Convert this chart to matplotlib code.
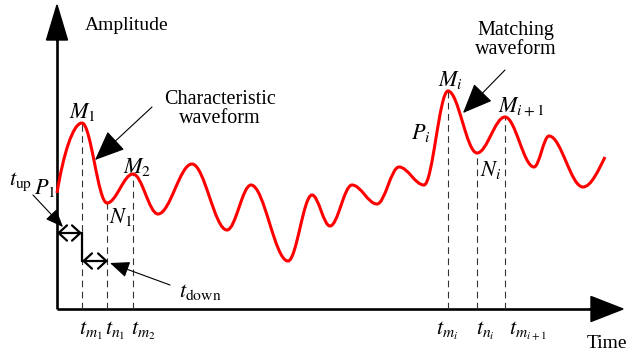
import numpy as np
import matplotlib
matplotlib.use("Agg")
import matplotlib.pyplot as plt
from matplotlib.path import Path
from matplotlib.patches import PathPatch, FancyArrow

plt.rcParams['font.family'] = 'serif'
plt.rcParams['font.serif'] = ['Liberation Serif', 'Times New Roman', 'DejaVu Serif']
plt.rcParams['mathtext.fontset'] = 'stix'

# waveform extrema (time, amplitude)
wave_t = [0, 25, 50, 76, 101, 135, 170, 194, 231, 255, 273, 295, 320, 342,
          367, 391, 420, 448, 477, 492, 526, 548]
wave_a = [116, 186, 106, 135, 95, 145, 79, 124, 48, 114, 83, 124, 105, 142,
          124, 218, 156, 192, 142, 173, 122, 152]

# marked instants
mark_t = [25, 50, 76, 391, 420, 448]
mark_a = [186, 106, 135, 218, 156, 192]
mark_lbl = [r'$t_{m_1}$', r'$t_{n_1}$', r'$t_{m_2}$',
            r'$t_{m_i}$', r'$t_{n_i}$', r'$t_{m_{i+1}}$']
lbl_dx = [-3, -2, -2, -12, -1, 4]

fig = plt.figure(figsize=(6.27, 3.51), dpi=100)
ax = fig.add_axes([0, 0, 1, 1])
ax.set_xlim(-57, 570)
ax.set_ylim(-42, 309)
ax.axis('off')

# smooth curve through the extrema (cubic bezier, flat tangents at extrema)
k = 0.36
verts = [(wave_t[0], wave_a[0])]
codes = [Path.MOVETO]
n = len(wave_t)
for i in range(n - 1):
    x0, y0, x1, y1 = wave_t[i], wave_a[i], wave_t[i + 1], wave_a[i + 1]
    dx = x1 - x0
    c1 = (x0 + k * dx, y0)
    c2 = (x1 - k * dx, y1)
    if i == 0:
        c1 = (x0 + 0.25 * dx, y0 + 0.55 * (y1 - y0))
    if i == n - 2:
        c2 = (x1 - 0.3 * dx, y1 - 0.45 * (y1 - y0))
    verts += [c1, c2, (x1, y1)]
    codes += [Path.CURVE4] * 3
ax.add_patch(PathPatch(Path(verts, codes), fill=False, edgecolor='#ff0000', lw=2.2, zorder=3))

# axes with arrows
ax.plot([0, 0], [0, 275], color='black', lw=1.9, solid_capstyle='butt')
ax.plot([0, 540], [0, 0], color='black', lw=1.9, solid_capstyle='butt')
ax.add_patch(FancyArrow(0, 268, 0, 36, width=0.1, head_width=21, head_length=35,
                        length_includes_head=True, color='black'))
ax.add_patch(FancyArrow(532, 0, 34, 0, width=0.1, head_width=25, head_length=32,
                        length_includes_head=True, color='black'))
ax.text(70, 284, 'Amplitude', fontsize=14, ha='center', va='center')
ax.text(550, -34, 'Time', fontsize=14, ha='center', va='center')

# dashed drop lines and time labels
for t, a, lab, d in zip(mark_t, mark_a, mark_lbl, lbl_dx):
    ax.plot([t, t], [0, a], color='#333333', lw=0.8, dashes=(6, 4))
    ax.text(t + d, -22, lab, fontsize=16, ha='left', va='center')

# point labels
ax.text(26, 197, r'$M_1$', fontsize=16, ha='center', va='center')
ax.text(-12, 121, r'$P_1$', fontsize=16, ha='center', va='center')
ax.text(52, 92, r'$N_1$', fontsize=16, ha='left', va='center')
ax.text(80, 142, r'$M_2$', fontsize=16, ha='center', va='center')
ax.text(394, 229, r'$M_i$', fontsize=16, ha='center', va='center')
ax.text(364, 176, r'$P_i$', fontsize=16, ha='center', va='center')
ax.text(423, 139, r'$N_i$', fontsize=16, ha='left', va='center')
ax.text(441, 202, r'$M_{i+1}$', fontsize=16, ha='left', va='center')

# waveform annotations
ax.text(163, 200, 'Characteristic\nwaveform', fontsize=14.5, ha='center', va='center',
        linespacing=1.05)
ax.annotate('', xy=(38, 149), xytext=(95, 202),
            arrowprops=dict(arrowstyle='-|>,head_length=1.9,head_width=0.8',
                            mutation_scale=10, lw=0.8, color='black',
                            shrinkA=0, shrinkB=0))
ax.text(459, 269, 'Matching\nwaveform', fontsize=14.5, ha='center', va='center',
        linespacing=1.05)
ax.annotate('', xy=(406, 196), xytext=(448, 239),
            arrowprops=dict(arrowstyle='-|>,head_length=1.9,head_width=0.8',
                            mutation_scale=10, lw=0.8, color='black',
                            shrinkA=0, shrinkB=0))

# t_up / t_down intervals
ax.annotate('', xy=(0, 76), xytext=(25, 76),
            arrowprops=dict(arrowstyle='<->,head_length=0.6,head_width=0.55',
                            mutation_scale=10, lw=1.6, color='black',
                            shrinkA=0, shrinkB=0))
ax.plot([25, 25], [48, 76], color='black', lw=1.6)
ax.annotate('', xy=(25, 48), xytext=(51, 48),
            arrowprops=dict(arrowstyle='<->,head_length=0.6,head_width=0.55',
                            mutation_scale=10, lw=1.6, color='black',
                            shrinkA=0, shrinkB=0))
ax.text(-36, 127, r'$t_{\rm up}$', fontsize=16, ha='center', va='center')
ax.annotate('', xy=(6, 82), xytext=(-24, 114),
            arrowprops=dict(arrowstyle='-|>,head_length=1.1,head_width=0.45',
                            mutation_scale=10, lw=0.8, color='black',
                            shrinkA=0, shrinkB=0))
ax.text(122, 17, r'$t_{\rm down}$', fontsize=16, ha='left', va='center')
ax.annotate('', xy=(53, 46), xytext=(113, 24),
            arrowprops=dict(arrowstyle='-|>,head_length=1.2,head_width=0.5',
                            mutation_scale=10, lw=0.8, color='black',
                            shrinkA=0, shrinkB=0))

plt.savefig("out.png", dpi=100)
